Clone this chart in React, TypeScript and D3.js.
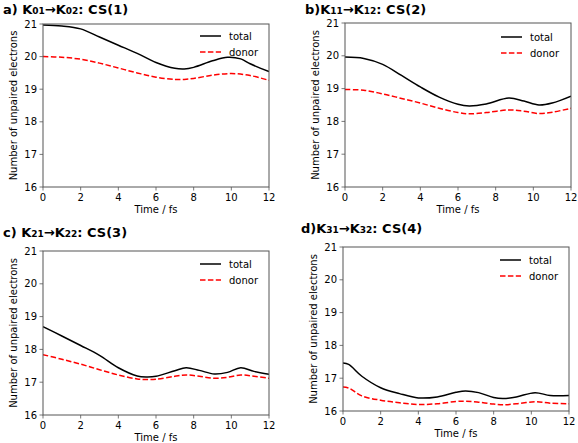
import React from "react";
import * as d3 from "d3";

const timeA = [0, 1, 2, 3, 4, 5, 6, 7, 7.5, 8, 9, 9.8, 10.5, 11, 12];
const totalA = [20.97, 20.94, 20.85, 20.6, 20.35, 20.1, 19.82, 19.64, 19.62, 19.67, 19.87, 19.98, 19.93, 19.78, 19.54];
const timeA2 = [0, 1, 2, 3, 4, 5, 6, 7, 7.5, 8, 9, 10, 11, 12];
const donorA = [20.0, 19.98, 19.92, 19.8, 19.65, 19.5, 19.37, 19.3, 19.3, 19.33, 19.43, 19.48, 19.42, 19.27];

const timeB = [0, 1, 2, 3, 4, 5, 6, 6.6, 7.5, 8.7, 9.5, 10.3, 11, 12];
const totalB = [19.96, 19.92, 19.74, 19.4, 19.05, 18.74, 18.52, 18.47, 18.53, 18.71, 18.62, 18.5, 18.56, 18.77];
const donorB = [18.97, 18.95, 18.84, 18.7, 18.56, 18.4, 18.27, 18.23, 18.27, 18.35, 18.31, 18.24, 18.28, 18.4];

const timeC = [0, 1, 2, 3, 4, 5, 5.5, 6, 7, 7.6, 8.3, 9.1, 9.8, 10.5, 11.2, 12];
const totalC = [18.69, 18.41, 18.12, 17.82, 17.44, 17.19, 17.16, 17.18, 17.35, 17.44, 17.36, 17.25, 17.3, 17.44, 17.33, 17.24];
const donorC = [17.84, 17.7, 17.55, 17.38, 17.22, 17.1, 17.08, 17.09, 17.18, 17.22, 17.18, 17.12, 17.15, 17.22, 17.18, 17.12];

const timeD = [0, 0.3, 1, 2, 3, 4, 5, 6, 6.5, 7.2, 8, 8.5, 9.2, 10.2, 11, 12];
const totalD = [17.46, 17.42, 17.06, 16.71, 16.53, 16.4, 16.43, 16.57, 16.61, 16.56, 16.41, 16.38, 16.43, 16.56, 16.47, 16.47];
const donorD = [16.73, 16.7, 16.46, 16.33, 16.25, 16.2, 16.22, 16.29, 16.3, 16.27, 16.21, 16.19, 16.22, 16.28, 16.24, 16.22];

const xTicks = [0, 2, 4, 6, 8, 10, 12];
const yTicks = [16, 17, 18, 19, 20, 21];
const legendLabels = ["total", "donor"];

type PanelDef = {
  letter: string;
  sep: string;
  sub1: string;
  sub2: string;
  cs: string;
  tTotal: number[];
  total: number[];
  tDonor: number[];
  donor: number[];
  left: number;
  right: number;
  top: number;
  bottom: number;
  titleX: number;
  titleY: number;
  legX: number;
  legY: number;
};

const panels: PanelDef[] = [
  { letter: "a)", sep: " ", sub1: "01", sub2: "02", cs: "CS(1)", tTotal: timeA, total: totalA, tDonor: timeA2, donor: donorA,
    left: 43, right: 269, top: 24, bottom: 187, titleX: 3, titleY: 14, legX: 200, legY: 36 },
  { letter: "b)", sep: "", sub1: "11", sub2: "12", cs: "CS(2)", tTotal: timeB, total: totalB, tDonor: timeB, donor: donorB,
    left: 345, right: 571, top: 23, bottom: 187, titleX: 305, titleY: 14, legX: 501, legY: 37 },
  { letter: "c)", sep: " ", sub1: "21", sub2: "22", cs: "CS(3)", tTotal: timeC, total: totalC, tDonor: timeC, donor: donorC,
    left: 43, right: 269, top: 251, bottom: 415, titleX: 3, titleY: 237, legX: 200, legY: 264 },
  { letter: "d)", sep: "", sub1: "31", sub2: "32", cs: "CS(4)", tTotal: timeD, total: totalD, tDonor: timeD, donor: donorD,
    left: 343, right: 569, top: 247, bottom: 411, titleX: 301, titleY: 233, legX: 500, legY: 260 },
];

const FONT = "'DejaVu Sans', sans-serif";
const SPINE = "#555";

function Panel({ p }: { p: PanelDef }) {
  const x = d3.scaleLinear().domain([0, 12]).range([p.left, p.right]);
  const y = d3.scaleLinear().domain([16, 21]).range([p.bottom, p.top]);
  const line = d3
    .line<[number, number]>()
    .x((d) => x(d[0]))
    .y((d) => y(d[1]))
    .curve(d3.curveCatmullRom.alpha(0.5));
  const totalPts = p.tTotal.map((t, i) => [t, p.total[i]] as [number, number]);
  const donorPts = p.tDonor.map((t, i) => [t, p.donor[i]] as [number, number]);
  const midY = (p.top + p.bottom) / 2;
  const midX = (p.left + p.right) / 2;
  return (
    <g>
      <text x={p.titleX} y={p.titleY} fontFamily={FONT} fontWeight="bold" fontSize={13} fill="#000">
        {p.letter}
        {p.sep}K<tspan fontSize={9}>{p.sub1}</tspan>→K<tspan fontSize={9}>{p.sub2}</tspan>: {p.cs}
      </text>
      <clipPath id={"clip" + p.letter[0]}>
        <rect x={p.left} y={p.top} width={p.right - p.left} height={p.bottom - p.top} />
      </clipPath>
      <g clipPath={`url(#clip${p.letter[0]})`}>
        <path d={line(totalPts) || ""} fill="none" stroke="#000" strokeWidth={1.5} />
        <path d={line(donorPts) || ""} fill="none" stroke="#ff0000" strokeWidth={1.5} strokeDasharray="5.5,2.4" />
      </g>
      <rect x={p.left} y={p.top} width={p.right - p.left} height={p.bottom - p.top} fill="none" stroke={SPINE} strokeWidth={1} />
      {xTicks.map((t) => (
        <g key={"x" + t}>
          <line x1={x(t)} x2={x(t)} y1={p.bottom} y2={p.bottom + 3.5} stroke={SPINE} strokeWidth={0.8} />
          <text x={x(t)} y={p.bottom + 14} textAnchor="middle" fontFamily={FONT} fontSize={10} fill="#000">
            {t}
          </text>
        </g>
      ))}
      {yTicks.map((t) => (
        <g key={"y" + t}>
          <line x1={p.left - 3.5} x2={p.left} y1={y(t)} y2={y(t)} stroke={SPINE} strokeWidth={0.8} />
          <text x={p.left - 6} y={y(t) + 3.6} textAnchor="end" fontFamily={FONT} fontSize={10} fill="#000">
            {t}
          </text>
        </g>
      ))}
      <text x={midX} y={p.bottom + 26} textAnchor="middle" fontFamily={FONT} fontSize={10} fill="#000">
        Time / fs
      </text>
      <text
        transform={`translate(${p.left - 26},${midY}) rotate(-90)`}
        textAnchor="middle"
        fontFamily={FONT}
        fontSize={10}
        fill="#000"
      >
        Number of unpaired electrons
      </text>
      {legendLabels.map((lab, i) => (
        <g key={lab}>
          <line
            x1={p.legX}
            x2={p.legX + 21}
            y1={p.legY + i * 16}
            y2={p.legY + i * 16}
            stroke={i === 0 ? "#000" : "#ff0000"}
            strokeWidth={1.5}
            strokeDasharray={i === 0 ? undefined : "5.5,2.4"}
          />
          <text x={p.legX + 29} y={p.legY + i * 16 + 3.6} fontFamily={FONT} fontSize={10} fill="#000">
            {lab}
          </text>
        </g>
      ))}
    </g>
  );
}

export default function App() {
  return (
    <svg width={578} height={443} style={{ position: "absolute", left: 0, top: 0, background: "#fff" }}>
      <rect x={0} y={0} width={578} height={443} fill="#fff" />
      {panels.map((p) => (
        <Panel key={p.letter} p={p} />
      ))}
    </svg>
  );
}
